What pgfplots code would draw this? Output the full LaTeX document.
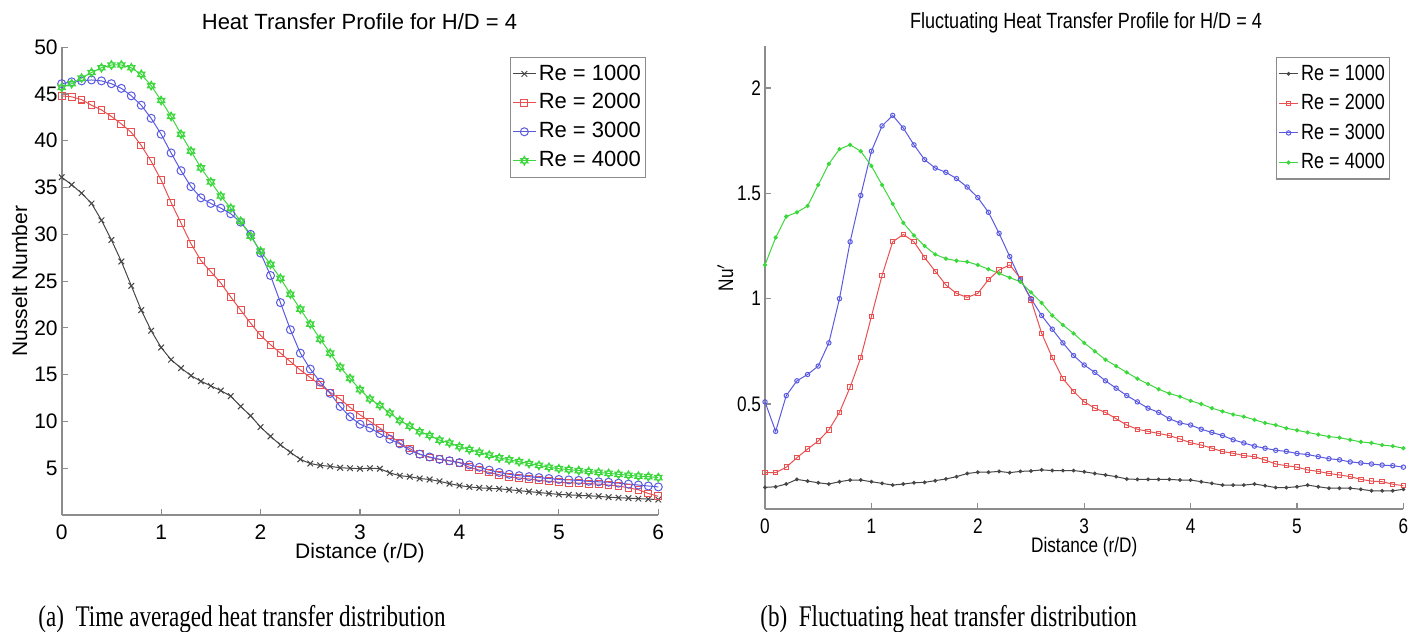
\documentclass[border=0pt]{standalone}
\usepackage{pgfplots}
\pgfplotsset{compat=1.18}
\usepackage{pgfplotstable}
\usetikzlibrary{plotmarks}
\usepackage{fontspec}
\setmainfont{Liberation Sans}
\newfontfamily\narrowfont[FakeStretch=0.82]{Liberation Sans}
\newfontfamily\capfont[FakeStretch=0.77]{Liberation Serif}

\definecolor{cK}{RGB}{70,70,70}
\definecolor{cR}{RGB}{235,80,80}
\definecolor{cB}{RGB}{90,90,225}
\definecolor{cG}{RGB}{60,215,60}
\definecolor{axgray}{RGB}{140,140,140}

\pgfdeclareplotmark{hexa}{%
  \pgfpathmoveto{\pgfqpointpolar{90}{\pgfplotmarksize}}%
  \pgfpathlineto{\pgfqpointpolar{210}{\pgfplotmarksize}}%
  \pgfpathlineto{\pgfqpointpolar{330}{\pgfplotmarksize}}%
  \pgfpathclose
  \pgfpathmoveto{\pgfqpointpolar{270}{\pgfplotmarksize}}%
  \pgfpathlineto{\pgfqpointpolar{30}{\pgfplotmarksize}}%
  \pgfpathlineto{\pgfqpointpolar{150}{\pgfplotmarksize}}%
  \pgfpathclose
  \pgfusepathqstroke}

\pgfplotstableread{
x a b c d
0.0 36.1 44.8 46.1 45.7
0.1 35.3 44.7 46.3 46.1
0.2 34.4 44.4 46.4 46.7
0.3 33.3 43.8 46.5 47.3
0.4 31.5 43.3 46.4 47.8
0.5 29.4 42.6 46.1 48.1
0.6 27.1 41.8 45.6 48.1
0.7 24.5 40.9 44.8 47.8
0.8 21.9 39.5 43.8 47.1
0.9 19.7 37.8 42.4 45.9
1.0 17.9 35.8 40.7 44.3
1.1 16.6 33.4 38.7 42.6
1.2 15.7 31.2 36.8 40.7
1.3 14.9 29.0 35.1 38.9
1.4 14.3 27.2 33.9 37.1
1.5 13.8 26.0 33.3 35.6
1.6 13.3 24.8 32.8 34.1
1.7 12.7 23.3 32.2 32.8
1.8 11.6 21.9 31.3 31.4
1.9 10.6 20.5 30.0 29.8
2.0 9.4 19.2 28.0 28.2
2.1 8.4 18.2 25.6 26.8
2.2 7.5 17.3 22.7 25.3
2.3 6.7 16.4 19.8 23.6
2.4 5.95 15.5 17.3 22.0
2.5 5.5 14.7 15.6 20.4
2.6 5.3 13.9 14.2 18.8
2.7 5.2 13.1 13.0 17.3
2.8 5.05 12.4 11.6 15.8
2.9 5.0 11.5 10.5 14.6
3.0 4.95 10.7 9.7 13.4
3.1 5.0 10.0 9.3 12.4
3.2 4.95 9.3 8.7 11.7
3.3 4.5 8.5 8.1 10.9
3.4 4.2 7.7 7.6 10.1
3.5 4.1 7.1 6.9 9.5
3.6 3.9 6.5 6.5 8.9
3.7 3.8 6.15 6.2 8.5
3.8 3.6 5.95 5.95 8.0
3.9 3.35 5.8 5.8 7.7
4.0 3.15 5.6 5.6 7.3
4.1 3.0 5.1 5.35 7.0
4.2 2.9 4.8 5.1 6.7
4.3 2.85 4.55 4.8 6.4
4.4 2.8 4.3 4.55 6.1
4.5 2.7 4.1 4.35 5.9
4.6 2.6 3.95 4.2 5.7
4.7 2.5 3.85 4.1 5.5
4.8 2.4 3.7 4.0 5.3
4.9 2.3 3.6 3.9 5.1
5.0 2.2 3.5 3.8 4.95
5.1 2.15 3.45 3.75 4.85
5.2 2.1 3.4 3.7 4.75
5.3 2.05 3.35 3.6 4.65
5.4 2.0 3.3 3.55 4.55
5.5 1.9 3.2 3.5 4.45
5.6 1.85 3.1 3.4 4.35
5.7 1.8 2.9 3.3 4.25
5.8 1.75 2.7 3.2 4.15
5.9 1.7 2.3 3.1 4.1
6.0 1.65 2.0 3.0 4.0
}\lefttab

\pgfplotstableread{
x a b c d
0.0 0.104 0.174 0.51 1.16
0.1 0.107 0.174 0.37 1.29
0.2 0.120 0.200 0.54 1.39
0.3 0.142 0.245 0.61 1.41
0.4 0.134 0.286 0.64 1.44
0.5 0.126 0.324 0.68 1.54
0.6 0.120 0.377 0.79 1.64
0.7 0.131 0.460 1.00 1.71
0.8 0.139 0.580 1.27 1.73
0.9 0.139 0.720 1.49 1.70
1.0 0.131 0.915 1.70 1.63
1.1 0.123 1.110 1.82 1.54
1.2 0.115 1.270 1.87 1.45
1.3 0.120 1.305 1.81 1.36
1.4 0.126 1.270 1.73 1.30
1.5 0.128 1.195 1.66 1.25
1.6 0.136 1.130 1.62 1.21
1.7 0.144 1.065 1.60 1.19
1.8 0.155 1.025 1.57 1.18
1.9 0.170 1.006 1.53 1.175
2.0 0.176 1.025 1.48 1.16
2.1 0.176 1.090 1.41 1.14
2.2 0.180 1.136 1.31 1.12
2.3 0.174 1.160 1.20 1.10
2.4 0.180 1.097 1.09 1.08
2.5 0.182 0.994 1.00 1.03
2.6 0.187 0.836 0.92 0.98
2.7 0.184 0.720 0.855 0.92
2.8 0.184 0.620 0.79 0.875
2.9 0.184 0.560 0.73 0.835
3.0 0.178 0.510 0.685 0.79
3.1 0.170 0.480 0.65 0.75
3.2 0.163 0.460 0.61 0.71
3.3 0.155 0.430 0.575 0.68
3.4 0.144 0.400 0.54 0.65
3.5 0.142 0.380 0.51 0.62
3.6 0.142 0.370 0.48 0.595
3.7 0.142 0.360 0.46 0.57
3.8 0.142 0.350 0.43 0.55
3.9 0.139 0.334 0.41 0.535
4.0 0.139 0.316 0.40 0.515
4.1 0.131 0.305 0.38 0.50
4.2 0.123 0.290 0.365 0.48
4.3 0.115 0.274 0.35 0.465
4.4 0.115 0.266 0.33 0.45
4.5 0.115 0.255 0.315 0.44
4.6 0.120 0.250 0.30 0.425
4.7 0.112 0.234 0.29 0.41
4.8 0.103 0.215 0.28 0.40
4.9 0.103 0.207 0.275 0.385
5.0 0.107 0.200 0.265 0.375
5.1 0.115 0.187 0.26 0.365
5.2 0.107 0.180 0.25 0.355
5.3 0.100 0.170 0.24 0.345
5.4 0.100 0.163 0.235 0.34
5.5 0.100 0.155 0.225 0.33
5.6 0.095 0.142 0.22 0.32
5.7 0.088 0.134 0.215 0.315
5.8 0.088 0.131 0.21 0.305
5.9 0.088 0.119 0.207 0.30
6.0 0.095 0.112 0.20 0.29
}\righttab

\pgfplotsset{
  common/.style={
    scale only axis,
    xmin=0, xmax=6,
    axis x line*=bottom, axis y line*=left,
    axis line style={-, draw=axgray, line width=0.9pt},
    tick style={draw=axgray, line width=0.6pt},
    tick align=inside,
    major tick length=3pt,
    xtick={0,1,2,3,4,5,6},
    /pgf/number format/assume math mode=true,
    legend cell align=left,
    every axis plot/.append style={line width=0.5pt},
    every mark/.append style={solid},
    clip=false,
  },
}

\begin{document}
\begin{tikzpicture}
\path[use as bounding box] (0,0) rectangle (710pt,316pt);

% ---------- left panel ----------
\begin{axis}[common,
  at={(30.85pt,58.5pt)}, anchor=south west,
  width=298.3pt, height=233.9pt,
  ymin=0, ymax=50,
  ytick={5,10,15,20,25,30,35,40,45,50},
  tick label style={font=\fontsize{10.5}{12}\selectfont, text=black},
  xticklabel style={yshift=-1.5pt},
  yticklabel style={xshift=1.5pt},
  xlabel={Distance (r/D)},
  xlabel style={font=\fontsize{10.5}{12}\selectfont, at={(axis description cs:0.5,0)}, anchor=base, yshift=-21.5pt},
  ylabel={Nusselt Number},
  ylabel style={font=\fontsize{10.5}{12}\selectfont, at={(axis description cs:-0.058,0.5)}, anchor=base, rotate=0},
  legend style={at={(0.9794,0.980)}, anchor=north east, draw=axgray, line width=0.7pt,
    font=\fontsize{11}{13}\selectfont, inner xsep=1pt, inner ysep=2.5pt, row sep=2.9pt,
    nodes={inner sep=1.2pt}},
  legend image code/.code={\draw[mark repeat=2,mark phase=2] plot coordinates {(0pt,0pt) (5.75pt,0pt) (11.5pt,0pt)};},
]
\addplot[cK, mark=x, mark size=2pt] table[x=x, y=a] {\lefttab};
\addlegendentry{Re = 1000}
\addplot[cR, mark=square, mark size=1.7pt] table[x=x, y=b] {\lefttab};
\addlegendentry{Re = 2000}
\addplot[cB, mark=o, mark size=2pt] table[x=x, y=c] {\lefttab};
\addlegendentry{Re = 3000}
\addplot[cG, mark=hexa, mark size=2.2pt] table[x=x, y=d] {\lefttab};
\addlegendentry{Re = 4000}
\end{axis}

% ---------- right panel ----------
\begin{axis}[common,
  at={(382.5pt,61.35pt)}, anchor=south west,
  width=319.2pt, height=231.7pt,
  ymin=0, ymax=2.2,
  ytick={0.5,1,1.5,2},
  tick label style={font=\narrowfont\fontsize{10.5}{12}\selectfont, text=black},
  xticklabel style={yshift=-1.2pt},
  yticklabel style={xshift=1.5pt},
  xlabel={Distance (r/D)},
  xlabel style={font=\narrowfont\fontsize{10.5}{12}\selectfont, at={(axis description cs:0.5,0)}, anchor=base, yshift=-21.8pt},
  ylabel={Nu$'$},
  ylabel style={font=\narrowfont\fontsize{10.5}{12}\selectfont, at={(axis description cs:-0.050,0.5)}, anchor=base},
  legend style={at={(0.979,0.977)}, anchor=north east, draw=axgray, line width=0.7pt,
    font=\narrowfont\fontsize{11}{13}\selectfont, inner xsep=1pt, inner ysep=2.5pt, row sep=3.2pt,
    nodes={inner sep=1.2pt}},
  legend image code/.code={\draw[mark repeat=2,mark phase=2] plot coordinates {(0pt,0pt) (4.85pt,0pt) (9.7pt,0pt)};},
]
\addplot[cK, mark=*, mark size=0.7pt] table[x=x, y=a] {\righttab};
\addlegendentry{Re = 1000}
\addplot[cR, mark=square, mark size=1.1pt] table[x=x, y=b] {\righttab};
\addlegendentry{Re = 2000}
\addplot[cB, mark=o, mark size=1.1pt] table[x=x, y=c] {\righttab};
\addlegendentry{Re = 3000}
\addplot[cG, mark=*, mark size=0.8pt] table[x=x, y=d] {\righttab};
\addlegendentry{Re = 4000}
\end{axis}

% titles
\node[anchor=base, font=\fontsize{11}{13}\selectfont] at (179.75pt,301pt) {Heat Transfer Profile for H/D = 4};
\node[anchor=base, font=\narrowfont\fontsize{11}{13}\selectfont] at (543pt,301.8pt) {Fluctuating Heat Transfer Profile for H/D = 4};

% captions
\node[anchor=base west, inner sep=0pt, font=\capfont\fontsize{15}{17}\selectfont] at (19pt,2.7pt) {(a)\ \ Time averaged heat transfer distribution};
\node[anchor=base west, inner sep=0pt, font=\capfont\fontsize{15}{17}\selectfont] at (380pt,2.7pt) {(b)\ \ Fluctuating heat transfer distribution};
\end{tikzpicture}
\end{document}
